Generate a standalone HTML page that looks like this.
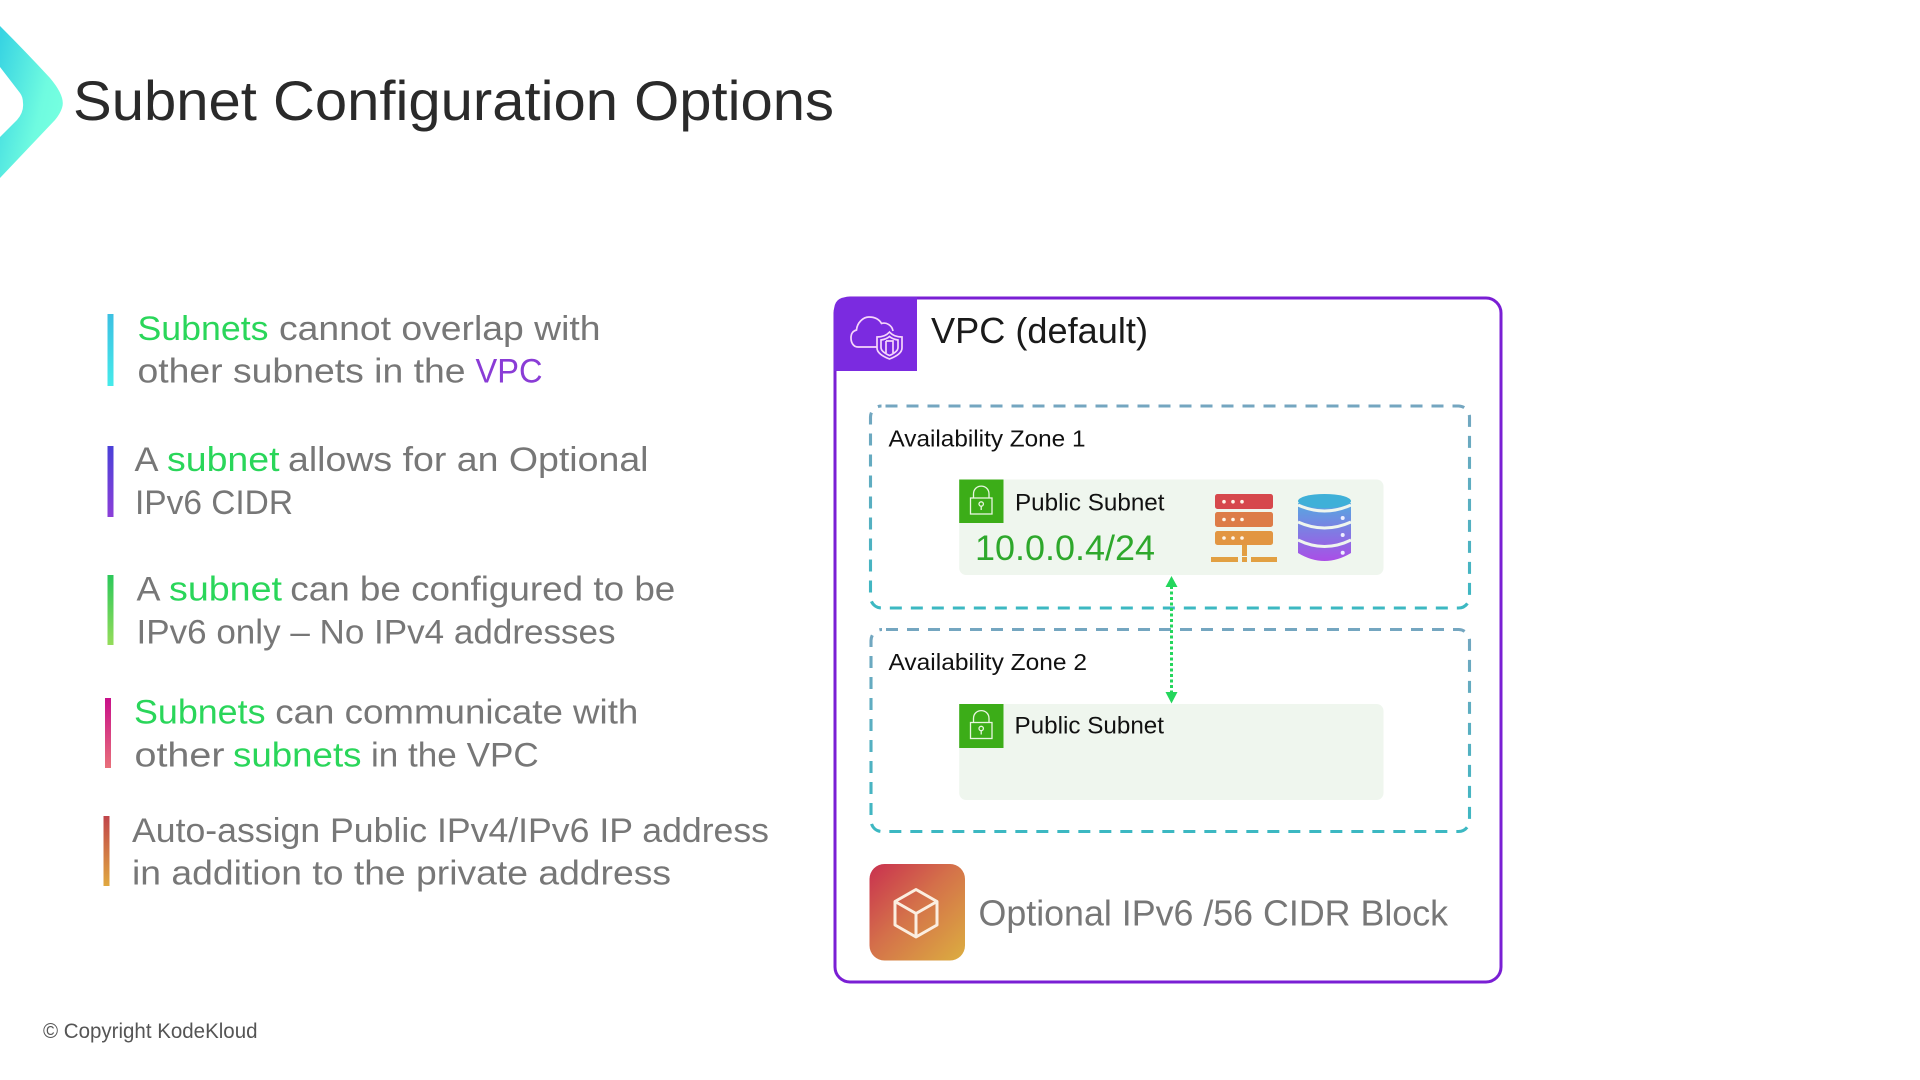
<!DOCTYPE html>
<html><head><meta charset="utf-8"><style>
html,body{margin:0;padding:0;background:#fff;width:1920px;height:1080px;overflow:hidden}
svg{display:block}
text{font-family:"Liberation Sans",sans-serif}
.b{font-size:34.5px;fill:#777}
.g{font-size:34.5px;fill:#2ad65a}
</style></head><body>
<svg width="1920" height="1080" viewBox="0 0 1920 1080" xmlns="http://www.w3.org/2000/svg">
<defs>
<linearGradient id="chev" x1="0" y1="0.1" x2="0.9" y2="0.62"><stop offset="0" stop-color="#38d4e2"/><stop offset="0.75" stop-color="#6ffbe0"/><stop offset="1" stop-color="#74ffe0"/></linearGradient>
<linearGradient id="b1" x1="0" y1="0" x2="0" y2="1"><stop offset="0" stop-color="#3cc0e2"/><stop offset="1" stop-color="#45eaea"/></linearGradient>
<linearGradient id="b2" x1="0" y1="0" x2="0" y2="1"><stop offset="0" stop-color="#4a40d8"/><stop offset="1" stop-color="#8b3fd8"/></linearGradient>
<linearGradient id="b3" x1="0" y1="0" x2="0" y2="1"><stop offset="0" stop-color="#2cc85a"/><stop offset="1" stop-color="#94dc5a"/></linearGradient>
<linearGradient id="b4" x1="0" y1="0" x2="0" y2="1"><stop offset="0" stop-color="#c8108a"/><stop offset="1" stop-color="#e8707a"/></linearGradient>
<linearGradient id="b5" x1="0" y1="0" x2="0" y2="1"><stop offset="0" stop-color="#c0444a"/><stop offset="1" stop-color="#e0a840"/></linearGradient>
<linearGradient id="az" x1="0" y1="0" x2="0" y2="1"><stop offset="0" stop-color="#74a6c0"/><stop offset="1" stop-color="#3cb8c2"/></linearGradient>
<linearGradient id="tile" x1="0" y1="0" x2="1" y2="1"><stop offset="0" stop-color="#c9304f"/><stop offset="0.45" stop-color="#d4704a"/><stop offset="1" stop-color="#dcae40"/></linearGradient>
<linearGradient id="d1" x1="0" y1="0" x2="0" y2="1"><stop offset="0" stop-color="#56a8e0"/><stop offset="1" stop-color="#aa4ee6"/></linearGradient>
</defs>

<!-- chevron -->
<path d="M0 26 Q26 52 50 78 Q66 97 62 108 Q60 114 55 120 L0 178 V137 L17 120 Q24 112 23 103 Q23 97 20 93 L0 67 Z" fill="url(#chev)"/>
<text x="73" y="120" font-size="56" fill="#2a2a2a" textLength="761" lengthAdjust="spacingAndGlyphs">Subnet Configuration Options</text>

<!-- bullets -->
<rect x="107.5" y="314" width="6" height="72" fill="url(#b1)"/>
<rect x="107.5" y="446" width="6" height="71" fill="url(#b2)"/>
<rect x="107.5" y="575" width="6" height="70" fill="url(#b3)"/>
<rect x="105" y="698" width="6" height="70" fill="url(#b4)"/>
<rect x="103.5" y="816" width="6" height="70" fill="url(#b5)"/>

<text class="g" x="137.5" y="340" textLength="131" lengthAdjust="spacingAndGlyphs">Subnets</text>
<text class="b" x="279" y="340" textLength="321.5" lengthAdjust="spacingAndGlyphs">cannot overlap with</text>
<text class="b" x="137.5" y="382.5" textLength="328" lengthAdjust="spacingAndGlyphs">other subnets in the</text>
<text x="475.5" y="382.5" font-size="34.5" fill="#8a3cd6" textLength="67" lengthAdjust="spacingAndGlyphs">VPC</text>

<text class="b" x="134.5" y="471" textLength="24" lengthAdjust="spacingAndGlyphs">A</text>
<text class="g" x="167" y="471" textLength="112.5" lengthAdjust="spacingAndGlyphs">subnet</text>
<text class="b" x="288" y="471" textLength="360.5" lengthAdjust="spacingAndGlyphs">allows for an Optional</text>
<text class="b" x="135" y="514" textLength="158" lengthAdjust="spacingAndGlyphs">IPv6 CIDR</text>

<text class="b" x="136.5" y="600.7" textLength="24" lengthAdjust="spacingAndGlyphs">A</text>
<text class="g" x="169" y="600.7" textLength="113" lengthAdjust="spacingAndGlyphs">subnet</text>
<text class="b" x="290.3" y="600.7" textLength="385" lengthAdjust="spacingAndGlyphs">can be configured to be</text>
<text class="b" x="136.500" y="643.3" textLength="479" lengthAdjust="spacingAndGlyphs">IPv6 only – No IPv4 addresses</text>

<text class="g" x="134" y="723.3" textLength="131.5" lengthAdjust="spacingAndGlyphs">Subnets</text>
<text class="b" x="275.300" y="723.3" textLength="363" lengthAdjust="spacingAndGlyphs">can communicate with</text>
<text class="b" x="134.500" y="766.500" textLength="90" lengthAdjust="spacingAndGlyphs">other</text>
<text class="g" x="233" y="766.500" textLength="128.500" lengthAdjust="spacingAndGlyphs">subnets</text>
<text class="b" x="371" y="766.500" textLength="167.700" lengthAdjust="spacingAndGlyphs">in the VPC</text>

<text class="b" x="132" y="842" textLength="637" lengthAdjust="spacingAndGlyphs">Auto-assign Public IPv4/IPv6 IP address</text>
<text class="b" x="132" y="884.500" textLength="539" lengthAdjust="spacingAndGlyphs">in addition to the private address</text>

<text x="43" y="1038" font-size="21" fill="#555" textLength="214.500" lengthAdjust="spacingAndGlyphs">© Copyright KodeKloud</text>

<!-- VPC -->
<rect x="835" y="298" width="666" height="684" rx="15" fill="#fff" stroke="#7a1fd4" stroke-width="3"/>
<path d="M848 297 H917 V371 H834 V311 Q834 297 848 297 Z" fill="#7b2be0"/>
<g fill="none" stroke="#f6d6fa" stroke-width="1.700">
<path d="M877 347 H858 C853 347 851 342 851 338 C851 333 853 331 856.500 330 C857 323 863 317 869 317 C875 317 879 319 881.500 323.500 C886 322 892 325 893 331"/>
<path d="M889.500 332 C893 336 898 337 902 337 V348 C902 353 896 356.500 889.500 359 C883 356.500 877 353 877 348 V337 C881 337 886 336 889.500 332 Z"/>
<path d="M889.500 336.500 C892 338.500 895 339.500 898 340 V347.500 C898 351 894 353.500 889.500 355.500 C885 353.500 881 351 881 347.500 V340 C884 339.500 887 338.500 889.500 336.500 Z"/>
<path d="M886 341 H893 V353"/><path d="M886 341 V353"/>
</g>
<text x="931" y="343" font-size="36.500" fill="#1a1a1a" textLength="217" lengthAdjust="spacingAndGlyphs">VPC (default)</text>

<!-- AZ 1 -->
<rect x="870.500" y="406" width="599" height="202" rx="11" fill="none" stroke="url(#az)" stroke-width="3.100" stroke-dasharray="12 9" stroke-dashoffset="-4"/>
<text x="888.500" y="446.700" font-size="23" fill="#111" textLength="197" lengthAdjust="spacingAndGlyphs">Availability Zone 1</text>
<rect x="959.200" y="479.500" width="424.300" height="95.500" rx="7" fill="#eff6ee"/>
<rect x="959.200" y="479.500" width="44.300" height="43.500" fill="#3cad18"/>
<g fill="none" stroke="#e8f6e0" stroke-width="1.300">
<rect x="970.500" y="498" width="21.500" height="16"/>
<path d="M973.500 498 V494 C973.500 483.500 989 483.500 989 494 V498"/>
<circle cx="981.200" cy="504" r="2.200"/><path d="M981.200 506.200 V510"/>
</g>
<text x="1015" y="510.700" font-size="24" fill="#111" textLength="149.500" lengthAdjust="spacingAndGlyphs">Public Subnet</text>
<text x="975" y="560" font-size="35" fill="#2ea82c" textLength="180" lengthAdjust="spacingAndGlyphs">10.0.0.4/24</text>

<!-- server -->
<rect x="1215" y="494" width="58" height="15" rx="2.500" fill="#d6484c"/>
<rect x="1215" y="512" width="58" height="15" rx="2.500" fill="#dd7c48"/>
<rect x="1215" y="531" width="58" height="14" rx="2.500" fill="#e29642"/>
<rect x="1242" y="545" width="5" height="11" fill="#e29e42"/>
<rect x="1211" y="557" width="27" height="5" fill="#e2a042"/>
<rect x="1242" y="557" width="5" height="5" fill="#e2a042"/>
<rect x="1251" y="557" width="26" height="5" fill="#e2a042"/>
<g fill="#fff5e8">
<circle cx="1224" cy="501.700" r="1.800"/><circle cx="1233" cy="501.700" r="1.800"/><circle cx="1242" cy="501.700" r="1.800"/>
<circle cx="1224" cy="519.500" r="1.800"/><circle cx="1233" cy="519.500" r="1.800"/><circle cx="1242" cy="519.500" r="1.800"/>
<circle cx="1224" cy="538" r="1.800"/><circle cx="1233" cy="538" r="1.800"/><circle cx="1242" cy="538" r="1.800"/>
</g>
<!-- database -->
<path d="M1298 503 V553 Q1324.500 569 1351 553 V503 Z" fill="url(#d1)"/>
<path d="M1298 505 Q1324.500 517 1351 505 M1298 522 Q1324.500 534 1351 522 M1298 540 Q1324.500 553 1351 540" fill="none" stroke="#eff6ee" stroke-width="3"/>
<ellipse cx="1324.500" cy="501" rx="26.500" ry="7" fill="#3fb0d8"/>
<g fill="#eef"><circle cx="1342.700" cy="518" r="2"/><circle cx="1342.700" cy="535" r="2"/><circle cx="1342.700" cy="552.700" r="2"/></g>

<!-- AZ 2 -->
<rect x="871" y="629.500" width="598.500" height="202" rx="11" fill="none" stroke="url(#az)" stroke-width="3.100" stroke-dasharray="12 9" stroke-dashoffset="-4"/>
<text x="888.500" y="670" font-size="23" fill="#111" textLength="198.500" lengthAdjust="spacingAndGlyphs">Availability Zone 2</text>
<rect x="959.200" y="704" width="424.300" height="96" rx="7" fill="#eff6ee"/>
<rect x="959.200" y="704" width="44.300" height="44" fill="#3cad18"/>
<g fill="none" stroke="#e8f6e0" stroke-width="1.300" transform="translate(0,224.500)">
<rect x="970.500" y="498" width="21.500" height="16"/>
<path d="M973.500 498 V494 C973.500 483.500 989 483.500 989 494 V498"/>
<circle cx="981.200" cy="504" r="2.200"/><path d="M981.200 506.200 V510"/>
</g>
<text x="1014.500" y="733.300" font-size="24" fill="#111" textLength="149.500" lengthAdjust="spacingAndGlyphs">Public Subnet</text>

<!-- arrow -->
<path d="M1171.500 586 V694" stroke="#24d65c" stroke-width="3" stroke-dasharray="3 2.500" fill="none"/>
<path d="M1171.500 576 L1177.500 587 H1165.500 Z" fill="#24d65c"/>
<path d="M1171.500 703.500 L1177.500 692 H1165.500 Z" fill="#24d65c"/>

<!-- tile -->
<rect x="869.500" y="864" width="95.500" height="96.500" rx="15" fill="url(#tile)"/>
<g fill="none" stroke="#fbeee0" stroke-width="3" stroke-linejoin="round">
<path d="M916 889.500 L937 901.500 V925 L916 937 L895 925 V901.500 Z"/>
<path d="M895 901.500 L916 913.500 L937 901.500 M916 913.500 V937"/>
</g>
<text x="978.500" y="925.500" font-size="36.500" fill="#777" textLength="469.500" lengthAdjust="spacingAndGlyphs">Optional IPv6 /56 CIDR Block</text>
</svg>
</body></html>
